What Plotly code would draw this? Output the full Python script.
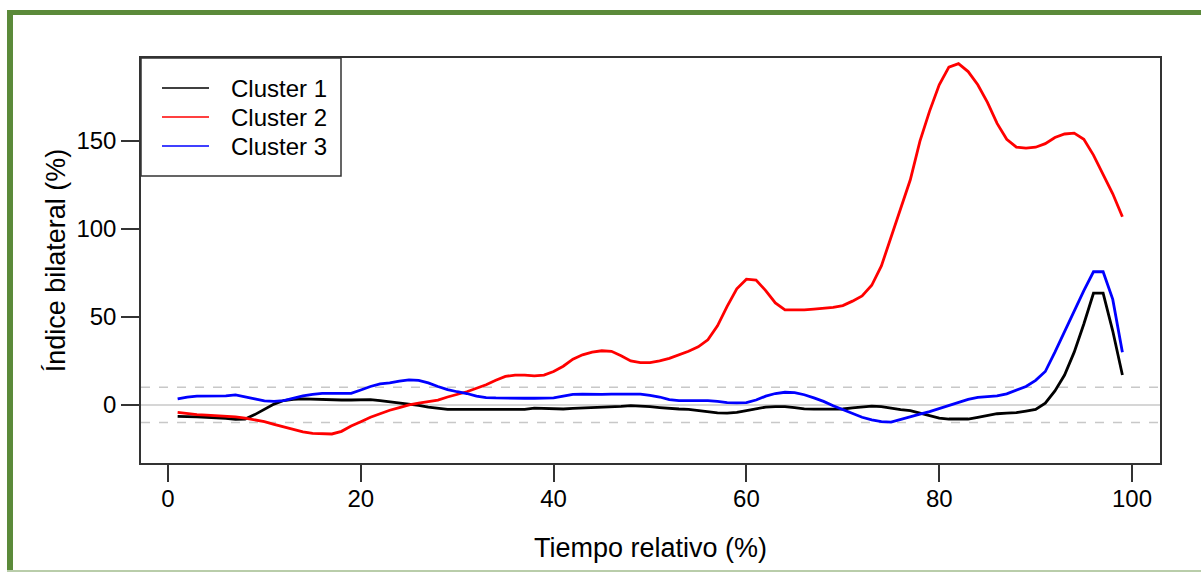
import plotly.graph_objects as go

# ---------------- data ----------------
tiempo = list(range(1, 100))

cluster1 = [-6.5, -6.5, -6.8, -7, -7.2, -7.6, -8.2, -8.0, -5.5, -2.5,
            0.5, 2.5, 3.2, 3.4, 3.2, 2.8, 2.8, 2.8, 2.8, 2.8,
            3, 2.5, 1.9, 1.2, 0.5, -0.3, -1.2, -2, -2.5, -2.5,
            -2.5, -2.5, -2.5, -2.5, -2.5, -2.5, -2.5, -1.8, -2, -2.5,
            -2.3, -2, -1.8, -1.5, -1.5, -1.2, -0.8, -0.4, -0.5, -1,
            -1.5, -2, -2.3, -2.5, -3.2, -4, -4.5, -4.7, -4.2, -3.2,
            -2, -1.2, -0.9, -0.9, -1.5, -2.2, -2.4, -2.5, -2.5, -2.3,
            -1.7, -1, -0.7, -1, -2, -2.6, -3.2, -4.5, -6, -7.5,
            -8, -8.1, -8, -7, -5.8, -5, -4.6, -4.4, -3.5, -2.5,
            1, 8, 17, 30, 46, 63.5, 63.5, 42, 17]

cluster2 = [-4.2, -5, -5.5, -5.8, -6, -6.3, -6.8, -7.5, -8.5, -9.5,
            -11, -12.5, -14, -15.3, -16.2, -16.5, -16.5, -15, -12, -9.5,
            -7, -5, -3, -1.5, 0, 1, 1.8, 2.8, 4.5, 6,
            7.5, 9.5, 11.5, 14, 16.2, 17, 17, 16.5, 17, 19,
            22, 26, 28.5, 30, 30.8, 30.5, 28, 25, 24, 24,
            25, 26.5, 28.5, 30.5, 33, 37, 45, 56, 66, 71.5,
            71, 65, 58, 54, 54, 54, 54.5, 55, 55.5, 56.5,
            59, 62, 68, 79, 95, 112, 128, 150, 167, 182,
            192, 194, 189.5, 182, 172, 160, 151, 146.5, 146, 146.5,
            148.5, 152, 154, 154.5, 151, 142, 131, 120, 107]

cluster3 = [3.4, 4.5, 5, 5, 5, 5.2, 5.7, 4.8, 3.5, 2.3,
            2, 2.5, 4, 5.1, 6, 6.6, 6.6, 6.5, 6.6, 8.5,
            10.5, 12, 12.5, 13.5, 14.2, 14, 12.5, 10.5, 8.7, 7.5,
            6.5, 5, 4.2, 4, 3.8, 3.8, 3.8, 3.8, 3.8, 4,
            5, 6, 6.2, 6, 6, 6.2, 6.2, 6.2, 6.2, 5.5,
            4.5, 3, 2.5, 2.5, 2.5, 2.5, 2, 1.3, 1.2, 1.3,
            2.8, 5, 6.5, 7.2, 7, 5.8, 4, 2, -0.5, -2.8,
            -5, -7, -8.5, -9.5, -9.8, -8.2, -6.5, -5.2, -3.8, -2,
            -0.6, 1.5, 3.2, 4.3, 4.8, 5.1, 6.3, 8.3, 10.5, 14,
            19, 30, 42, 54, 65, 75.7, 75.7, 60, 30]

series_names = ["Cluster 1", "Cluster 2", "Cluster 3"]
series_values = [cluster1, cluster2, cluster3]
series_colors = ["#000000", "#ff0000", "#0000ff"]

x_ticks = [0, 20, 40, 60, 80, 100]
y_ticks = [0, 50, 100, 150]
ref_lines = [-10, 0, 10]

# ---------------- figure ----------------
W, H = 1201, 572
L, R, T, B = 141, 41, 58, 109
PW, PH = W - L - R, H - T - B


def px(xp):
    return (xp - L) / PW


def py(yp):
    return (H - B - yp) / PH


FONT = "Liberation Sans, Arial, sans-serif"

fig = go.Figure()
for name, vals, col in zip(series_names, series_values, series_colors):
    fig.add_trace(go.Scatter(x=tiempo, y=vals, mode="lines", name=name,
                             line=dict(color=col, width=2.8),
                             showlegend=False))

shapes = []
# reference lines
for v in ref_lines:
    shapes.append(dict(type="line", xref="paper", yref="y", x0=0, x1=1, y0=v, y1=v,
                       line=dict(color="#c8c8c8", width=1.5,
                                 dash="solid" if v == 0 else "dash"),
                       layer="below"))

# legend box
shapes.append(dict(type="rect", xref="paper", yref="paper",
                   x0=0, x1=px(341), y0=py(176), y1=1,
                   line=dict(color="#333333", width=1.5), fillcolor="white",
                   layer="above"))
annotations = []
rows = [88, 117, 146]
for (name, col, r) in zip(series_names, series_colors, rows):
    shapes.append(dict(type="line", xref="paper", yref="paper",
                       x0=px(162), x1=px(209), y0=py(r), y1=py(r),
                       line=dict(color=col, width=1.6), layer="above"))
    annotations.append(dict(xref="paper", yref="paper", x=px(229), y=py(r),
                            text=name, showarrow=False, xanchor="left",
                            yanchor="middle",
                            font=dict(family=FONT, size=24, color="black")))

# green frame
GREEN = "#5b8a3a"
shapes.append(dict(type="rect", xref="paper", yref="paper",
                   x0=px(7), x1=px(1201), y0=py(15), y1=py(10),
                   line=dict(width=0), fillcolor=GREEN, layer="above"))
shapes.append(dict(type="rect", xref="paper", yref="paper",
                   x0=px(7), x1=px(13), y0=py(572), y1=py(10),
                   line=dict(width=0), fillcolor=GREEN, layer="above"))
shapes.append(dict(type="rect", xref="paper", yref="paper",
                   x0=px(7), x1=px(1201), y0=py(572), y1=py(570),
                   line=dict(width=0), fillcolor="#b9cdaa", layer="above"))

fig.update_layout(
    width=W, height=H,
    margin=dict(l=L, r=R, t=T, b=B, autoexpand=False),
    paper_bgcolor="white", plot_bgcolor="white",
    font=dict(family=FONT, size=24, color="black"),
    shapes=shapes, annotations=annotations,
    showlegend=False,
)
fig.update_xaxes(
    range=[-2.8, 102.9], tickvals=x_ticks, ticktext=[str(v) for v in x_ticks],
    showgrid=False, zeroline=False, showline=True, mirror=True,
    linecolor="#333333", linewidth=1.5,
    ticks="outside", ticklen=17, tickwidth=1.5, tickcolor="#333333",
    tickfont=dict(family=FONT, size=24), ticklabelstandoff=-4,
    title=dict(text="Tiempo relativo (%)", font=dict(family=FONT, size=27), standoff=28),
)
fig.update_yaxes(
    range=[-33, 197.2], tickvals=y_ticks, ticktext=[str(v) for v in y_ticks],
    showgrid=False, zeroline=False, showline=True, mirror=True,
    linecolor="#333333", linewidth=1.5,
    ticks="outside", ticklen=18, tickwidth=1.5, tickcolor="#333333",
    tickfont=dict(family=FONT, size=24),
    title=dict(text="Índice bilateral (%)", font=dict(family=FONT, size=27), standoff=3),
)

fig.write_html("out.html",
               config={"displayModeBar": False},
               post_script="document.body.style.margin='0px';")
